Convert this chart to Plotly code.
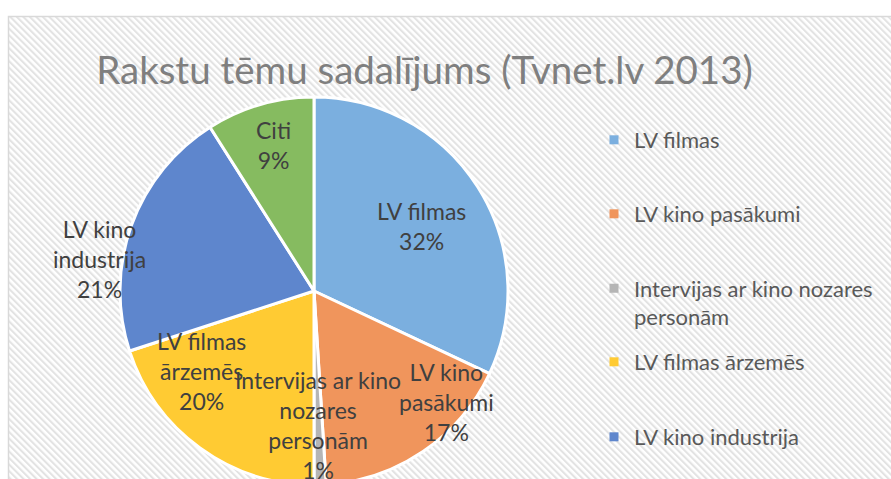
import base64
import math
import plotly.graph_objects as go

# ---------------- data ----------------
categories = ["LV filmas", "LV kino pasākumi", "Intervijas ar kino nozares personām",
              "LV filmas ārzemēs", "LV kino industrija", "Citi"]
values = [32, 17, 1, 20, 21, 9]
label_text = ["LV filmas", "LV kino<br>pasākumi", "Intervijas ar kino<br>nozares<br>personām",
              "LV filmas<br>ārzemēs", "LV kino<br>industrija", "Citi"]
legend_text = ["LV filmas", "LV kino pasākumi", "Intervijas ar kino nozares<br>personām",
               "LV filmas ārzemēs", "LV kino industrija"]
title_text = "Rakstu tēmu sadalījums (Tvnet.lv 2013)"

# ---------------- style / layout ----------------
colors = ["#7BAFDF", "#F0955C", "#B5B5B5", "#FFCB33", "#5E86CD", "#86BB60"]
W, H = 891, 540
CX, CY, R = 314, 291, 194          # pie centre / radius in px
label_r = [0.65, 0.89, 0.69, 0.71, 1.12, 0.78]
label_shift = [1.3, -15.7, 0.0, 18.5, -11.4, 0.8]
legend_x_px = 594
legend_y_px = [140, 214, 303, 362, 437]
FONT = "Lato"

total = sum(values)

fig = go.Figure()
fig.add_trace(go.Pie(
    labels=categories, values=values, sort=False, direction="clockwise", rotation=0,
    marker=dict(colors=colors, line=dict(color="white", width=3)),
    textinfo="none", hoverinfo="none", showlegend=False,
    domain=dict(x=[(CX - R) / W, (CX + R) / W], y=[1 - (CY + R) / H, 1 - (CY - R) / H]),
))

# legend entries (one legend per entry for Excel-like spacing)
for i, (name, c) in enumerate(zip(legend_text, colors)):
    lg = "legend" if i == 0 else f"legend{i + 1}"
    fig.add_trace(go.Scatter(x=[None], y=[None], mode="markers", name=name,
                             marker=dict(symbol="square", size=9, color=c),
                             legend=lg, hoverinfo="skip"))
legends = {}
for i, ypx in enumerate(legend_y_px):
    lg = "legend" if i == 0 else f"legend{i + 1}"
    legends[lg] = dict(x=legend_x_px / W, y=1 - ypx / H, xanchor="left", yanchor="middle",
                       bgcolor="rgba(0,0,0,0)", valign="top", itemwidth=30,
                       font=dict(family=FONT, size=22, color="#595959"))

# data labels, positioned from each slice's mid angle
annotations = []
cum = 0
for v, txt, fr, sh in zip(values, label_text, label_r, label_shift):
    mid = (cum + v / 2) / total * 360 + sh
    cum += v
    xp = CX + R * fr * math.sin(math.radians(mid))
    yp = CY - R * fr * math.cos(math.radians(mid))
    pct = round(v / total * 100)
    annotations.append(dict(x=xp / W, y=1 - yp / H, xref="paper", yref="paper",
                            text=f"{txt}<br>{pct}%", showarrow=False,
                            xanchor="center", yanchor="middle",
                            font=dict(family=FONT, size=23, color="#404040")))

# hatched chart-area background
bw, bh = W - 8, H - 16
svg = (f'<svg xmlns="http://www.w3.org/2000/svg" width="{bw}" height="{bh}">'
       '<defs><pattern id="p" width="4.6" height="4.6" patternUnits="userSpaceOnUse" '
       'patternTransform="rotate(-45)"><rect x="0" y="0" width="2.1" height="4.6" fill="#E3E3E3"/>'
       '</pattern></defs>'
       f'<rect width="{bw}" height="{bh}" fill="#FFFFFF"/>'
       f'<rect width="{bw}" height="{bh}" fill="url(#p)"/></svg>')
src = "data:image/svg+xml;base64," + base64.b64encode(svg.encode()).decode()

fig.update_layout(
    width=W, height=H, margin=dict(l=0, r=0, t=0, b=0),
    paper_bgcolor="white", plot_bgcolor="rgba(0,0,0,0)",
    xaxis=dict(visible=False), yaxis=dict(visible=False),
    title=dict(text=title_text, x=424.5 / W, xanchor="center", xref="paper",
               y=1 - 71 / H, yref="paper", yanchor="middle",
               font=dict(family=FONT, size=38.5, color="#7F7F7F")),
    images=[dict(source=src, xref="paper", yref="paper", x=8 / W, y=1 - 16 / H,
                 sizex=bw / W, sizey=bh / H, xanchor="left", yanchor="top",
                 sizing="stretch", layer="below")],
    shapes=[dict(type="rect", xref="paper", yref="paper", x0=8.5 / W, x1=1.02,
                 y0=-0.02, y1=1 - 16.5 / H, line=dict(color="#D9D9D9", width=1.5))],
    annotations=annotations,
    **legends,
)

post = """
var gd = document.getElementById('{plot_id}');
document.body.style.margin = '0';
document.documentElement.style.overflow = 'hidden';
document.body.style.overflow = 'hidden';
var wrap = document.createElement('div');
wrap.style.cssText = 'width:891px;height:479px;overflow:hidden;position:relative;';
gd.parentNode.insertBefore(wrap, gd);
wrap.appendChild(gd);
"""
fig.write_html("out.html", post_script=post, config={"displayModeBar": False})
